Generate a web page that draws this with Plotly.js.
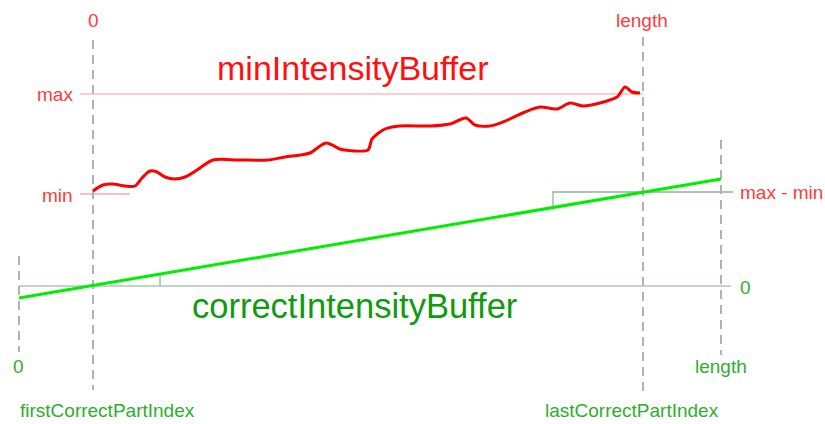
<!DOCTYPE html>
<html><head><meta charset="utf-8">
<script src="https://cdn.plot.ly/plotly-3.0.1.min.js"></script>
<style>html,body{margin:0;padding:0;background:#fff}</style>
</head><body><div id="c" style="width:825px;height:424px"></div>
<script>
// red buffer curve (minIntensityBuffer), sampled in diagram units
const redX = [93,103,112,125,135,142,150,157,165,175,185,197,213,240,268,285,300,310,326,340,345,368,372,385,400,430,450,466,475,490,503,525,540,557,570,583,600,617,625,632,640];
const redY = [191,185,184,186,186,178,171,172,177,179,177,170,160,160,160,157,155,153,143,149,150,150,139,129,126,126,124,118,125,126,122,112,107,109,103,106,103,97,87,92,93];
// green line (correctIntensityBuffer)
const greenX = [19,721];
const greenY = [298,179];
// reference levels
const maxLineX = [80,643], maxLineY = [94,94];
const minLineX = [80,130], minLineY = [194,194];
const zeroLineX = [19,731], zeroLineY = [286,286];
const diffLineX = [553,553,733], diffLineY = [207,192,192];
const tickX = [160,160], tickY = [286,274];
// dashed index markers
const vLines = [
  {x:93, y0:40, y1:390},
  {x:643, y0:37, y1:392},
  {x:721, y0:140, y1:355},
  {x:19, y0:256, y1:352}
];
// labels
const redLabels = ["0","length","max","min","max - min"];
const redLabelX = [93,642,75,75,738];
const redLabelY = [20,20,94,195,192];
const redAnchor = ["center","center","right","right","left"];
const greenLabels = ["0","length","firstCorrectPartIndex","lastCorrectPartIndex","0"];
const greenLabelX = [18,721,107,632,738];
const greenLabelY = [366,366,410,410,287];
const greenAnchor = ["center","center","center","center","left"];
const titles = ["minIntensityBuffer","correctIntensityBuffer"];
const titleX = [353,354], titleY = [68,306];

const traces = [];
vLines.forEach(v=>traces.push({x:[v.x,v.x],y:[v.y0,v.y1],mode:'lines',line:{color:'#8a8a8a',width:1.3,dash:'9px,6px'},hoverinfo:'skip'}));
traces.push({x:maxLineX,y:maxLineY,mode:'lines',line:{color:'#ff9a9a',width:1}});
traces.push({x:minLineX,y:minLineY,mode:'lines',line:{color:'#ff8080',width:1}});
traces.push({x:zeroLineX,y:zeroLineY,mode:'lines',line:{color:'#a8c8b0',width:1.5}});
traces.push({x:diffLineX,y:diffLineY,mode:'lines',line:{color:'#8cb596',width:1.3}});
traces.push({x:tickX,y:tickY,mode:'lines',line:{color:'#8cb596',width:1.2}});
traces.push({x:greenX,y:greenY,mode:'lines',line:{color:'#00ee00',width:3}});
traces.push({x:redX,y:redY,mode:'lines',line:{color:'#ff0000',width:3,shape:'spline',smoothing:0.8}});

const small = 19;
const ann = [];
redLabels.forEach((t,i)=>ann.push({x:redLabelX[i],y:redLabelY[i],text:t,showarrow:false,xanchor:redAnchor[i],yanchor:'middle',font:{family:'Liberation Sans, Arial',size:small,color:'#ff3b3b'}}));
greenLabels.forEach((t,i)=>ann.push({x:greenLabelX[i],y:greenLabelY[i],text:t,showarrow:false,xanchor:greenAnchor[i],yanchor:'middle',font:{family:'Liberation Sans, Arial',size:small,color:'#2eae2e'}}));
ann.push({x:titleX[0],y:titleY[0],text:titles[0],showarrow:false,xanchor:'center',yanchor:'middle',font:{family:'Liberation Sans, Arial',size:34,color:'#ff1010'}});
ann.push({x:titleX[1],y:titleY[1],text:titles[1],showarrow:false,xanchor:'center',yanchor:'middle',font:{family:'Liberation Sans, Arial',size:34.5,color:'#109a10'}});

Plotly.newPlot('c',traces,{
  width:825,height:424,margin:{l:0,r:0,t:0,b:0},showlegend:false,
  paper_bgcolor:'#fff',plot_bgcolor:'#fff',
  xaxis:{range:[0,825],visible:false,fixedrange:true},
  yaxis:{range:[424,0],visible:false,fixedrange:true},
  annotations:ann
},{staticPlot:true});
</script></body></html>
